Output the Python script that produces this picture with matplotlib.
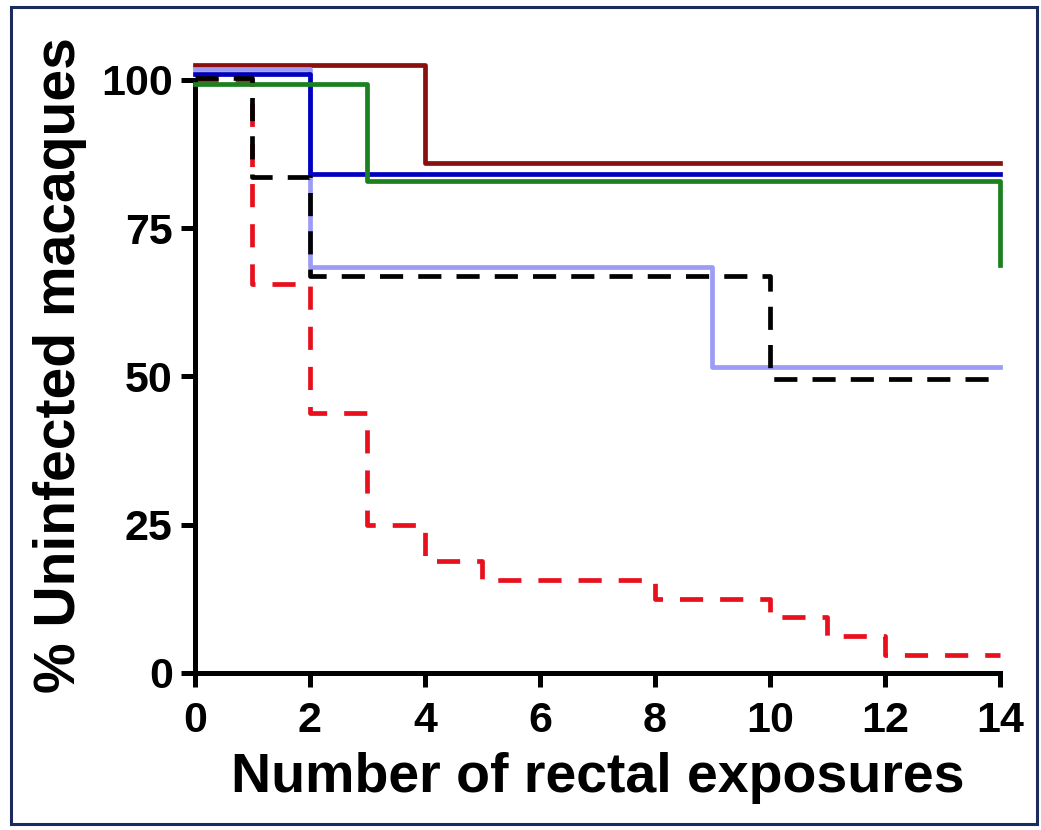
import matplotlib.pyplot as plt
from matplotlib.patches import Rectangle

# ── 数据 ────────────────────────────────
x_darkred = [0, 4, 14]
y_darkred = [102.5, 86.0, 86.0]

x_lavender = [0, 2, 9, 14]
y_lavender = [101.8, 68.4, 51.6, 51.6]

x_blue = [0, 2, 14]
y_blue = [101.0, 84.2, 84.2]

x_green = [0, 3, 14]
y_green = [99.4, 83.0, 68.8]

x_black = [0, 1, 2, 10, 14]
y_black = [100.3, 83.6, 67.0, 49.5, 49.5]

x_red = [0, 1, 2, 3, 4, 5, 8, 10, 11, 12, 14]
y_red = [100, 65.6, 43.8, 25.0, 18.8, 15.6, 12.5, 9.4, 6.3, 3.1, 3.1]

x_ticks = [0, 2, 4, 6, 8, 10, 12, 14]
y_ticks = [0, 25, 50, 75, 100]

FONT = ['Liberation Sans', 'DejaVu Sans']
plt.rcParams['font.family'] = FONT
plt.rcParams['font.weight'] = 'bold'


def main():
    fig = plt.figure(figsize=(10.41, 8.3), dpi=100)
    fig.patch.set_facecolor('white')

    # 外框
    fig.patches.append(Rectangle((0.011, 0.007), 0.985, 0.984,
                                 transform=fig.transFigure, fill=False,
                                 edgecolor='#1c2b5e', linewidth=2.2))

    ax = fig.add_axes([0.1873, 0.1892, 0.7733, 0.743])
    ax.set_xlim(0, 14)
    ax.set_ylim(0, 104)

    lw = 3.4
    kw = dict(where='post', lw=lw, clip_on=False)
    ax.step(x_darkred, y_darkred, color='#8a1010', zorder=3, **kw)
    ax.step(x_lavender, y_lavender, color='#9c9cf6', zorder=3, **kw)
    ax.step(x_blue, y_blue, color='#0000c0', zorder=4, **kw)
    ax.step(x_green, y_green, color='#1a8020', zorder=5, **kw)
    ax.step(x_black, y_black, color='black', dashes=(4.9, 3.2), zorder=6, **kw)
    ax.step(x_red, y_red, color='#e8101c', dashes=(4.9, 3.6), zorder=2, **kw)

    # ── 坐标轴样式 ──────────────────────────────
    for side in ['top', 'right']:
        ax.spines[side].set_visible(False)
    for side in ['left', 'bottom']:
        ax.spines[side].set_linewidth(3.6)
    ax.spines['left'].set_bounds(0, 100)
    ax.spines['bottom'].set_bounds(0, 14)

    ax.set_xticks(x_ticks)
    ax.set_yticks(y_ticks)
    ax.tick_params(axis='both', direction='out', length=10, width=3.6,
                   labelsize=31)
    ax.tick_params(axis='x', pad=10)
    ax.tick_params(axis='y', pad=6)
    for lab in ax.get_xticklabels() + ax.get_yticklabels():
        lab.set_fontweight('bold')

    ax.set_xlabel('Number of rectal exposures', fontsize=40,
                  fontweight='bold', labelpad=8)
    ax.set_ylabel('% Uninfected macaques', fontsize=41,
                  fontweight='bold', labelpad=10)

    fig.savefig('out.png', dpi=100)


if __name__ == "__main__":
    main()
